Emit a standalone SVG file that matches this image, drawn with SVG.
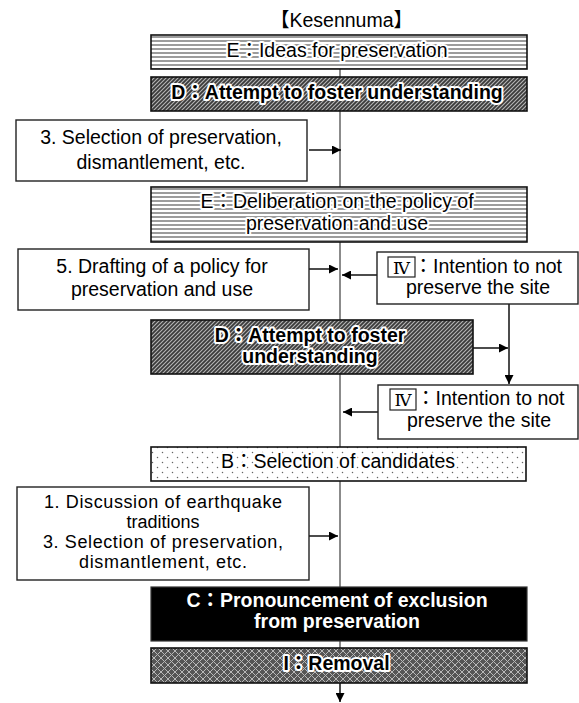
<svg xmlns="http://www.w3.org/2000/svg" width="579" height="703" viewBox="0 0 579 703">
<defs>
<pattern id="pStripe" width="4" height="4" patternUnits="userSpaceOnUse"><rect width="4" height="4" fill="#fff"/><rect width="4" height="2" fill="#9c9c9c"/></pattern>
<pattern id="pHatch" width="4" height="4" patternUnits="userSpaceOnUse"><rect width="4" height="4" fill="#3a3a3a"/><path d="M-1,1 L1,-1 M0,4 L4,0 M3,5 L5,3" stroke="#b4b4b4" stroke-width="1.1"/></pattern>
<pattern id="pDots" width="10" height="10" patternUnits="userSpaceOnUse"><rect width="10" height="10" fill="#fff"/><circle cx="2.5" cy="2.5" r="0.75" fill="#666"/><circle cx="7.5" cy="7.5" r="0.75" fill="#666"/></pattern>
<pattern id="pLattice" width="7" height="7" patternUnits="userSpaceOnUse"><rect width="7" height="7" fill="#555"/><path d="M0,0 L7,7 M7,0 L0,7" stroke="#b8b8b8" stroke-width="1"/></pattern>
<marker id="ah" markerWidth="9" markerHeight="9" refX="9" refY="4.5" orient="auto" markerUnits="userSpaceOnUse"><path d="M0,0 L9,4.5 L0,9 z" fill="#000"/></marker>
</defs>
<style>
text{font-family:'Liberation Sans','Noto Sans CJK JP',sans-serif;font-size:19.5px;fill:#000;text-anchor:middle}
.b{font-weight:bold}
.halo{paint-order:stroke;stroke:#fff;stroke-width:4;stroke-linejoin:round}
.box{stroke:#111;stroke-width:1.6}
.wbox{fill:#fff;stroke:#222;stroke-width:1.4}
.st{text-anchor:start}
.sm{font-size:18px}
.num{font-family:'DejaVu Serif','Liberation Serif','Noto Sans CJK JP',serif;font-size:17px}
.main{stroke:#666;stroke-width:1.5;fill:none}
.arr{stroke:#111;stroke-width:1.5;fill:none;marker-end:url(#ah)}
</style>
<g id="title"><text x="341.5" y="27">【Kesennuma】</text></g>
<g id="connectors">
<path class="main" d="M340,69 V77 M340,111 V187 M340,242 V320 M340,374 V447 M340,481 V587 M340,641 V648"/>
<path class="arr" d="M309,150 H341"/>
<path class="arr" d="M309,269 H338"/>
<path class="arr" d="M377,275 H342"/>
<path class="arr" d="M509,304 V384"/>
<path class="arr" d="M473,348 H508"/>
<path class="arr" d="M378,412 H343"/>
<path class="arr" d="M309,536 H338"/>
<path class="arr" d="M340,683 V702"/>
</g>
<g id="n-e1"><rect class="box" x="151" y="35" width="376" height="34" fill="url(#pStripe)"/><text class="halo" x="337" y="57">E：Ideas for preservation</text></g>
<g id="n-d1"><rect class="box" x="151" y="77" width="376" height="34" fill="url(#pHatch)"/><text class="halo b" x="337" y="99">D：Attempt to foster understanding</text></g>
<g id="n-a"><rect class="wbox" x="16" y="120" width="291" height="61"/><text x="161" y="144">3. Selection of preservation,</text><text x="161" y="169">dismantlement, etc.</text></g>
<g id="n-e2"><rect class="box" x="151" y="187" width="376" height="55" fill="url(#pStripe)"/><text class="halo" x="337" y="207.5">E：Deliberation on the policy of</text><text class="halo" x="337" y="230">preservation and use</text></g>
<g id="n-5"><rect class="wbox" x="18" y="249" width="291" height="61"/><text x="162" y="273">5. Drafting of a policy for</text><text x="162" y="296">preservation and use</text></g>
<g id="n-iv1"><rect class="wbox" x="377" y="252" width="201" height="52"/><rect x="388" y="257" width="27" height="20" fill="none" stroke="#222" stroke-width="1.2"/><text class="num" x="401.5" y="273.5">Ⅳ</text><text class="st" x="413.5" y="273">：Intention to not</text><text x="478" y="294">preserve the site</text></g>
<g id="n-d2"><rect class="box" x="151" y="320" width="322" height="54" fill="url(#pHatch)"/><text class="halo b" x="310" y="342">D：Attempt to foster</text><text class="halo b" x="310" y="363">understanding</text></g>
<g id="n-iv2"><rect class="wbox" x="378" y="385" width="200" height="54"/><rect x="390" y="389" width="26" height="21" fill="none" stroke="#222" stroke-width="1.2"/><text class="num" x="403" y="405.5">Ⅳ</text><text class="st" x="416" y="405">：Intention to not</text><text x="479" y="426.5">preserve the site</text></g>
<g id="n-b"><rect class="box" x="151" y="447" width="375" height="34" fill="url(#pDots)"/><text class="halo" x="338" y="468">B：Selection of candidates</text></g>
<g id="n-1"><rect class="wbox" x="17" y="487" width="292" height="93"/><text class="sm" x="163" y="507.5" textLength="238" lengthAdjust="spacing">1. Discussion of earthquake</text><text class="sm" x="163" y="527.5">traditions</text><text class="sm" x="163" y="547.5" textLength="240" lengthAdjust="spacing">3. Selection of preservation,</text><text class="sm" x="163" y="567.5" textLength="168" lengthAdjust="spacing">dismantlement, etc.</text></g>
<g id="n-c"><rect x="151" y="587" width="376" height="54" fill="#000" stroke="#333" stroke-width="1.2"/><text class="b" x="337" y="607" style="fill:#fff">C：Pronouncement of exclusion</text><text class="b" x="337" y="628" style="fill:#fff">from preservation</text></g>
<g id="n-i"><rect class="box" x="151" y="648" width="376" height="35" fill="url(#pLattice)"/><text class="halo b" x="336.5" y="669.5">I：Removal</text></g>
</svg>
